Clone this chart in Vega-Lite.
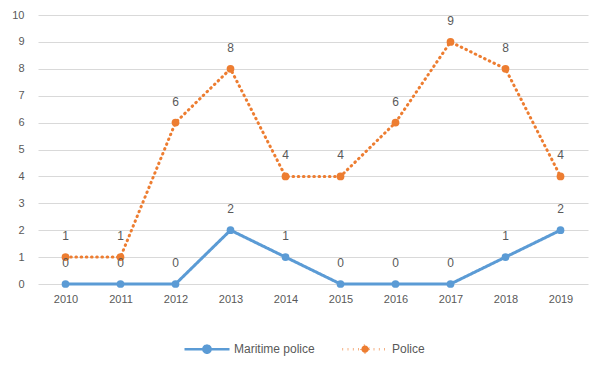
{
  "$schema": "https://vega.github.io/schema/vega-lite/v6.json",
  "width": 550,
  "height": 269,
  "autosize": "none",
  "padding": {"left": 38, "top": 15, "right": 17, "bottom": 85},
  "background": "white",
  "config": {
    "view": {"stroke": null},
    "font": "Liberation Sans",
    "axis": {"labelColor": "#595959", "labelFontSize": 11, "domain": false, "ticks": false}
  },
  "data": {
    "values": [
      {"year": "2010", "series": "Maritime police", "value": 0},
      {"year": "2011", "series": "Maritime police", "value": 0},
      {"year": "2012", "series": "Maritime police", "value": 0},
      {"year": "2013", "series": "Maritime police", "value": 2},
      {"year": "2014", "series": "Maritime police", "value": 1},
      {"year": "2015", "series": "Maritime police", "value": 0},
      {"year": "2016", "series": "Maritime police", "value": 0},
      {"year": "2017", "series": "Maritime police", "value": 0},
      {"year": "2018", "series": "Maritime police", "value": 1},
      {"year": "2019", "series": "Maritime police", "value": 2},
      {"year": "2010", "series": "Police", "value": 1},
      {"year": "2011", "series": "Police", "value": 1},
      {"year": "2012", "series": "Police", "value": 6},
      {"year": "2013", "series": "Police", "value": 8},
      {"year": "2014", "series": "Police", "value": 4},
      {"year": "2015", "series": "Police", "value": 4},
      {"year": "2016", "series": "Police", "value": 6},
      {"year": "2017", "series": "Police", "value": 9},
      {"year": "2018", "series": "Police", "value": 8},
      {"year": "2019", "series": "Police", "value": 4}
    ]
  },
  "encoding": {
    "x": {
      "field": "year",
      "type": "ordinal",
      "axis": {"title": null, "labelAngle": 0, "labelPadding": 9}
    },
    "y": {
      "field": "value",
      "type": "quantitative",
      "scale": {"domain": [0, 10], "nice": false},
      "axis": {
        "title": null,
        "values": [0, 1, 2, 3, 4, 5, 6, 7, 8, 9, 10],
        "labelOverlap": false,
        "gridColor": "#d9d9d9",
        "gridWidth": 1,
        "labelPadding": 14
      }
    },
    "color": {
      "field": "series",
      "type": "nominal",
      "scale": {"domain": ["Maritime police", "Police"], "range": ["#5b9bd5", "#ed7d31"]},
      "legend": {
        "title": null,
        "orient": "none",
        "direction": "horizontal",
        "legendX": 145,
        "legendY": 310,
        "symbolType": "M-1,0H1M0.16,0A0.16,0.16,0,1,1,-0.16,0A0.16,0.16,0,1,1,0.16,0",
        "symbolSize": 2025,
        "symbolStrokeWidth": 2.5,
        "labelFontSize": 12,
        "labelColor": "#595959",
        "labelOffset": 3,
        "columnPadding": 22,
        "encode": {
          "symbols": {
            "update": {
              "fill": {"scale": "color", "field": "value"},
              "strokeDash": {"signal": "datum.value === 'Police' ? [3, 3] : [1, 0]"}
            }
          }
        }
      }
    }
  },
  "layer": [
    {
      "mark": {"type": "line", "strokeWidth": 3, "strokeCap": "round"},
      "encoding": {
        "strokeDash": {
          "field": "series",
          "type": "nominal",
          "scale": {"domain": ["Maritime police", "Police"], "range": [[1, 0], [0.6, 4.6]]},
          "legend": null
        }
      }
    },
    {
      "mark": {"type": "point", "filled": true, "size": 60, "opacity": 1}
    },
    {
      "mark": {"type": "text", "dy": -21, "fontSize": 12, "color": "#595959"},
      "encoding": {
        "text": {"field": "value", "type": "quantitative"},
        "color": {"value": "#595959"}
      }
    }
  ]
}
